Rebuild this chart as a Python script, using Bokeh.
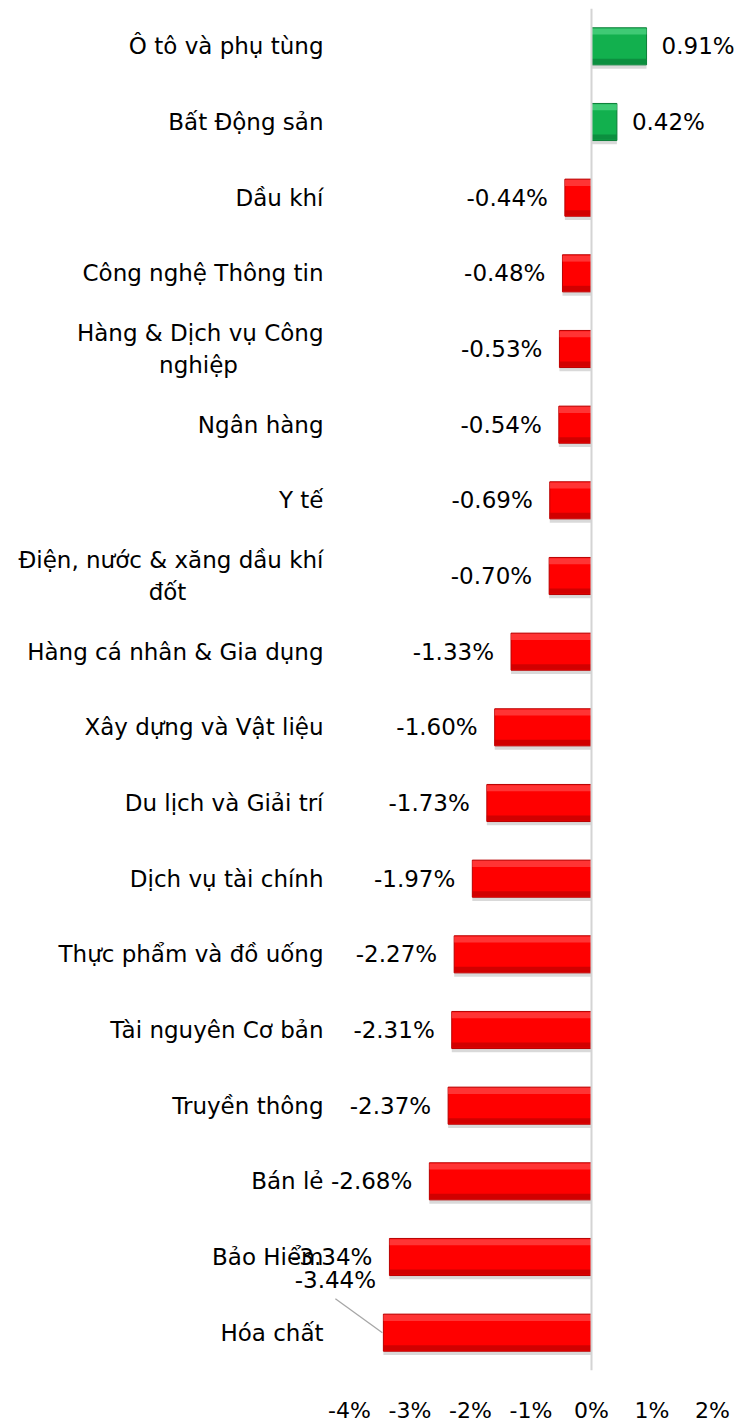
from bokeh.plotting import figure
from bokeh.models import ColumnDataSource, Range1d, FixedTicker, Span
from bokeh.core.properties import value
from bokeh.embed import file_html
from bokeh.resources import INLINE

categories = [
    "Ô tô và phụ tùng",
    "Bất Động sản",
    "Dầu khí",
    "Công nghệ Thông tin",
    "Hàng & Dịch vụ Công\nnghiệp",
    "Ngân hàng",
    "Y tế",
    "Điện, nước & xăng dầu khí\nđốt",
    "Hàng cá nhân & Gia dụng",
    "Xây dựng và Vật liệu",
    "Du lịch và Giải trí",
    "Dịch vụ tài chính",
    "Thực phẩm và đồ uống",
    "Tài nguyên Cơ bản",
    "Truyền thông",
    "Bán lẻ",
    "Bảo Hiểm",
    "Hóa chất",
]
values = [0.91, 0.42, -0.44, -0.48, -0.53, -0.54, -0.69, -0.70, -1.33, -1.60,
          -1.73, -1.97, -2.27, -2.31, -2.37, -2.68, -3.34, -3.44]
x_ticks = [-4, -3, -2, -1, 0, 1, 2]
x_tick_labels = {t: f"{t}%" for t in x_ticks}

FONT = "DejaVu Sans"
FS = "23px"
VFS = "23px"
PX = 60.5          # pixels per 1 %
W, H = 741, 1425
ZERO_PX = 591
TOP = 8
FRAME_H = 1368
n = len(categories)
# half widths (px) of first line of wrapped labels, for centring the second line
wrap_half = {"Hàng & Dịch vụ Công\nnghiệp": 125, "Điện, nước & xăng dầu khí\nđốt": 156}

p = figure(width=W, height=H, output_backend="svg", toolbar_location=None,
           x_range=Range1d(-ZERO_PX / PX, (W - ZERO_PX) / PX),
           y_range=Range1d(n - 0.5, -0.5))
p.min_border_left = 0
p.min_border_right = 0
p.min_border_top = TOP
p.min_border_bottom = H - TOP - FRAME_H
p.outline_line_color = None
p.background_fill_color = "white"
p.border_fill_color = "white"
p.xgrid.visible = False
p.ygrid.visible = False
p.yaxis.visible = False

ax = p.xaxis[0]
ax.ticker = FixedTicker(ticks=x_ticks)
ax.major_label_overrides = x_tick_labels
ax.axis_line_color = None
ax.major_tick_line_color = None
ax.minor_tick_line_color = None
ax.major_tick_out = 0
ax.major_label_standoff = 27
ax.major_label_text_font = FONT
ax.major_label_text_font_size = "22px"
ax.major_label_text_color = "black"

# zero line
p.add_layout(Span(location=0, dimension="height", line_color="#d4d4d4", line_width=2))

ys = list(range(n))
pos = [v >= 0 for v in values]
main_col = ["#12B04E" if s else "#FF0000" for s in pos]
edge_col = ["#0B7D37" if s else "#B80000" for s in pos]
top_col = ["#52D686" if s else "#FF4A4A" for s in pos]
bot_col = ["#0C8C3E" if s else "#CC0000" for s in pos]
lefts = [min(0, v) for v in values]
rights = [max(0, v) for v in values]

src = ColumnDataSource(dict(y=ys, left=lefts, right=rights, main=main_col, edge=edge_col,
                            top=top_col, bot=bot_col,
                            y_sh=[y + 0.05 for y in ys],
                            y_top=[y - 0.195 for y in ys],
                            y_bot=[y + 0.2 for y in ys]))

BH = 0.49
# shadow
p.hbar(y="y_sh", left="left", right="right", height=BH, source=src,
       fill_color="black", fill_alpha=0.15, line_color=None)
# main bar
p.hbar(y="y", left="left", right="right", height=BH, source=src,
       fill_color="main", line_color="edge", line_width=1)
# bevel strips
p.hbar(y="y_top", left="left", right="right", height=0.08, source=src,
       fill_color="top", fill_alpha=0.7, line_color=None)
p.hbar(y="y_bot", left="left", right="right", height=0.07, source=src,
       fill_color="bot", fill_alpha=0.9, line_color=None)

# value labels
lab_x, lab_y, lab_t, lab_align, lab_xo, lab_yo = [], [], [], [], [], []
leader = None
for i, v in enumerate(values):
    t = f"{v:.2f}%"
    lab_x.append(v); lab_y.append(i); lab_t.append(t)
    if categories[i] == "Hóa chất":
        lab_align.append("center"); lab_xo.append(-48); lab_yo.append(-53)
        leader = (v - 48 / PX, i - 34 / 76, v - 1 / PX, i)
    else:
        lab_align.append("left" if v >= 0 else "right")
        lab_xo.append(15 if v >= 0 else -17); lab_yo.append(0)

vsrc = ColumnDataSource(dict(x=lab_x, y=lab_y, t=lab_t, a=lab_align, xo=lab_xo, yo=lab_yo))
p.text(x="x", y="y", text="t", source=vsrc, text_align="a", x_offset="xo", y_offset="yo",
       text_baseline="middle", text_font=value(FONT), text_font_size=VFS, text_color="black")

if leader:
    p.segment(x0=[leader[0]], y0=[leader[1]], x1=[leader[2]], y1=[leader[3]],
              line_color="#a6a6a6", line_width=1.3)

# category labels
cx, cy, ct, ca, cxo, cyo = [], [], [], [], [], []
for i, c in enumerate(categories):
    lines = c.split("\n")
    if len(lines) == 1:
        cx.append(0); cy.append(i); ct.append(c); ca.append("right"); cxo.append(-268); cyo.append(0)
    else:
        cx.append(0); cy.append(i); ct.append(lines[0]); ca.append("right")
        cxo.append(-268); cyo.append(-16)
        cx.append(0); cy.append(i); ct.append(lines[1]); ca.append("center")
        cxo.append(-268 - wrap_half[c]); cyo.append(16)

csrc = ColumnDataSource(dict(x=cx, y=cy, t=ct, a=ca, xo=cxo, yo=cyo))
p.text(x="x", y="y", text="t", source=csrc, text_align="a", x_offset="xo", y_offset="yo",
       text_baseline="middle", text_font=value(FONT), text_font_size=FS, text_color="black")

open("out.html", "w").write(file_html(p, INLINE))
